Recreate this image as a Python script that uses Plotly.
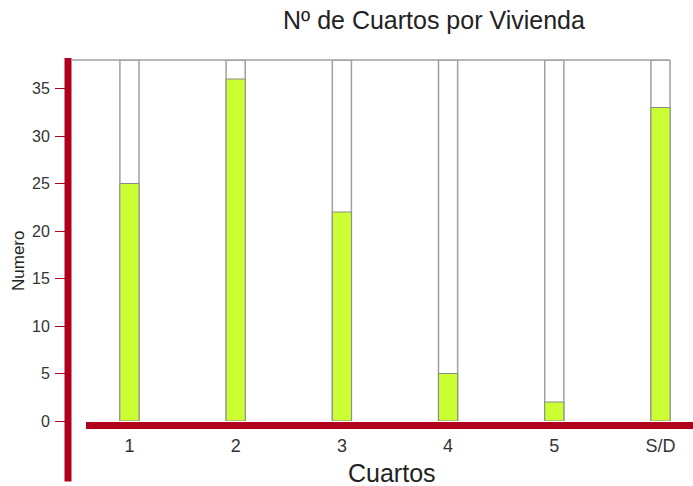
import plotly.graph_objects as go

categories = ["1", "2", "3", "4", "5", "S/D"]
values = [25, 36, 22, 5, 2, 33]
backdrop_max = 38
y_ticks = [0, 5, 10, 15, 20, 25, 30, 35]

title_text = "Nº de Cuartos por Vivienda"
x_title = "Cuartos"
y_title = "Numero"

FONT = "Liberation Sans, Arial, sans-serif"
RED = "#B0001E"
GREEN = "#CCFF33"
GRAY = "#A0A0A0"

W, H = 693, 486
ML, MR, MT, MB = 72, 0, 60, 65
PW, PH = W - ML - MR, H - MT - MB
xr = [-0.541, 5.306]


def px_x(p):
    return (p - ML) / PW


def px_y(p):
    return (H - MB - p) / PH


fig = go.Figure()
fig.add_trace(go.Bar(
    x=categories, y=[backdrop_max] * len(categories), width=0.18,
    marker=dict(color="white", line=dict(color=GRAY, width=1.5)),
    hoverinfo="skip", showlegend=False,
))
fig.add_trace(go.Bar(
    x=categories, y=values, width=0.18,
    marker=dict(color=GREEN, line=dict(color="#8A8A8A", width=1)),
    showlegend=False,
))

right_edge = (5 + 0.09 - xr[0]) / (xr[1] - xr[0])
fig.update_layout(
    width=W, height=H,
    margin=dict(l=ML, r=MR, t=MT, b=MB, pad=0),
    barmode="overlay",
    plot_bgcolor="white", paper_bgcolor="white",
    font=dict(family=FONT, color="#333333"),
    xaxis=dict(
        type="category", range=xr, showgrid=False, zeroline=False, showline=False,
        ticks="outside", ticklen=8, tickcolor="rgba(0,0,0,0)",
        tickfont=dict(size=18, color="#333333"),
    ),
    yaxis=dict(
        range=[0, backdrop_max], tickvals=y_ticks, showgrid=False, zeroline=False,
        showline=False, ticks="outside", ticklen=16, tickcolor=RED, tickwidth=1,
        tickfont=dict(size=16, color="#333333"), ticklabelstandoff=2,
    ),
    shapes=[
        dict(type="line", xref="paper", yref="paper", x0=0, x1=right_edge,
             y0=1, y1=1, line=dict(color=GRAY, width=1.5)),
        dict(type="line", xref="paper", yref="paper", x0=px_x(68), x1=px_x(68),
             y0=px_y(58), y1=px_y(481.5), line=dict(color=RED, width=7)),
        dict(type="line", xref="paper", yref="paper", x0=px_x(86), x1=1,
             y0=px_y(425.5), y1=px_y(425.5), line=dict(color=RED, width=7)),
    ],
    annotations=[
        dict(text=title_text, xref="paper", yref="paper", x=px_x(434), y=px_y(20),
             xanchor="center", yanchor="middle", showarrow=False,
             font=dict(size=25, color="#222222")),
        dict(text=x_title, xref="paper", yref="paper", x=px_x(392), y=px_y(473),
             xanchor="center", yanchor="middle", showarrow=False,
             font=dict(size=25, color="#222222")),
        dict(text=y_title, xref="paper", yref="paper", x=px_x(18), y=px_y(261),
             xanchor="center", yanchor="middle", showarrow=False, textangle=-90,
             font=dict(size=17, color="#222222")),
    ],
)

fig.write_html("out.html", config={"displayModeBar": False},
               post_script="document.body.style.margin='0px';")
